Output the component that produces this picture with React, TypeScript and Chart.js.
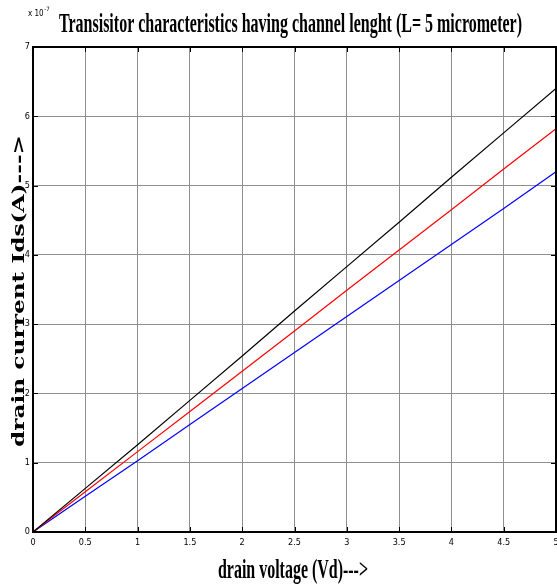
import React, { useEffect, useRef } from "react";
import { Chart, registerables } from "chart.js";

Chart.register(...registerables);

// Drain voltage (V)
const drainVoltage = [0, 0.5, 1, 1.5, 2, 2.5, 3, 3.5, 4, 4.5, 5];
// Drain current Ids in units of 1e-7 A
const idsBlack = [0, 0.63, 1.26, 1.9, 2.54, 3.19, 3.83, 4.47, 5.12, 5.76, 6.4];
const idsRed = [0, 0.58, 1.16, 1.74, 2.32, 2.9, 3.49, 4.07, 4.65, 5.24, 5.82];
const idsBlue = [0, 0.515, 1.03, 1.55, 2.07, 2.59, 3.11, 3.63, 4.15, 4.67, 5.2];

const xTicks = [0, 0.5, 1, 1.5, 2, 2.5, 3, 3.5, 4, 4.5, 5];
const yTicks = [0, 1, 2, 3, 4, 5, 6, 7];

const titleText = "Transisitor characteristics having channel lenght (L= 5 micrometer)";
const xLabel = "drain voltage (Vd)--->";
const yLabel = "drain current Ids(A)--->";
const multiplierBase = "x 10";
const multiplierExp = "-7";

const tickFont = "'Liberation Sans Narrow', 'DejaVu Sans Condensed', 'Liberation Sans', sans-serif";

function drawFitted(
  ctx: CanvasRenderingContext2D,
  text: string,
  font: string,
  cx: number,
  cy: number,
  targetWidth: number,
  rotate: boolean
) {
  ctx.save();
  ctx.font = font;
  ctx.fillStyle = "#000";
  const w = ctx.measureText(text).width;
  ctx.translate(cx, cy);
  if (rotate) ctx.rotate(-Math.PI / 2);
  ctx.scale(targetWidth / w, 1);
  ctx.textAlign = "center";
  ctx.textBaseline = "alphabetic";
  ctx.fillText(text, 0, 0);
  ctx.restore();
}

const decorPlugin = {
  id: "matlabDecor",
  afterDraw(chart: any) {
    const ctx: CanvasRenderingContext2D = chart.ctx;
    const { left, right, top, bottom } = chart.chartArea;
    const xs = chart.scales.x;
    const ys = chart.scales.y;
    ctx.save();
    // inner tick marks
    ctx.strokeStyle = "#000";
    ctx.lineWidth = 1;
    ctx.beginPath();
    xTicks.forEach((v) => {
      const px = Math.round(xs.getPixelForValue(v)) + 0.5;
      ctx.moveTo(px, bottom);
      ctx.lineTo(px, bottom - 5);
      ctx.moveTo(px, top);
      ctx.lineTo(px, top + 5);
    });
    yTicks.forEach((v) => {
      const py = Math.round(ys.getPixelForValue(v)) + 0.5;
      ctx.moveTo(left, py);
      ctx.lineTo(left + 5, py);
      ctx.moveTo(right, py);
      ctx.lineTo(right - 5, py);
    });
    ctx.stroke();
    // box
    ctx.lineWidth = 2;
    ctx.strokeRect(left, top, right - left, bottom - top);
    ctx.restore();

    // titles
    drawFitted(ctx, titleText, "bold 27px 'Liberation Serif', serif", 290.5, 32, 463, false);
    drawFitted(ctx, xLabel, "bold 27px 'Liberation Serif', serif", 293, 578, 150, false);
    drawFitted(ctx, yLabel, "bold 16px 'DejaVu Serif', serif", 24, 291, 312, true);

    // multiplier
    ctx.save();
    ctx.fillStyle = "#000";
    ctx.font = `8px ${tickFont}`;
    ctx.textBaseline = "alphabetic";
    ctx.textAlign = "left";
    ctx.fillText(multiplierBase, 28, 16);
    const bw = ctx.measureText(multiplierBase).width;
    ctx.font = `6px ${tickFont}`;
    ctx.fillText(multiplierExp, 28 + bw + 0.5, 11);
    ctx.restore();
  },
};

export default function App() {
  const canvasRef = useRef<HTMLCanvasElement | null>(null);

  useEffect(() => {
    const canvas = canvasRef.current;
    if (!canvas) return;
    const mk = (label: string, data: number[], color: string) => ({
      label,
      data: drainVoltage.map((x, i) => ({ x, y: data[i] })),
      borderColor: color,
      backgroundColor: color,
      borderWidth: 1.2,
      pointRadius: 0,
      tension: 0,
      fill: false,
    });
    const chart = new Chart(canvas, {
      type: "line",
      data: {
        datasets: [
          mk("black", idsBlack, "#000000"),
          mk("red", idsRed, "#ff0000"),
          mk("blue", idsBlue, "#0000ff"),
        ],
      },
      options: {
        animation: false,
        responsive: false,
        maintainAspectRatio: false,
        layout: { padding: { left: 0, top: 47, right: 1, bottom: 33 } },
        plugins: {
          legend: { display: false },
          title: { display: false },
          tooltip: { enabled: false },
        },
        scales: {
          x: {
            type: "linear",
            min: 0,
            max: 5,
            afterBuildTicks: (scale: any) => {
              scale.ticks = xTicks.map((v) => ({ value: v }));
            },
            afterFit: (scale: any) => {
              scale.height = 20;
              scale.paddingLeft = 0;
              scale.paddingRight = 0;
            },
            ticks: {
              color: "#000",
              font: { family: tickFont, size: 9 },
              padding: 5,
              maxRotation: 0,
              autoSkip: false,
              callback: (v: any) => String(v),
            },
            grid: { color: "#8f8f8f", lineWidth: 1, drawTicks: false },
            border: { display: false },
          },
          y: {
            type: "linear",
            min: 0,
            max: 7,
            afterBuildTicks: (scale: any) => {
              scale.ticks = yTicks.map((v) => ({ value: v }));
            },
            afterFit: (scale: any) => {
              scale.width = 33;
              scale.paddingTop = 0;
              scale.paddingBottom = 0;
            },
            ticks: {
              color: "#000",
              font: { family: tickFont, size: 9 },
              padding: 3,
              autoSkip: false,
              callback: (v: any) => String(v),
            },
            grid: { color: "#8f8f8f", lineWidth: 1, drawTicks: false },
            border: { display: false },
          },
        },
      },
      plugins: [decorPlugin],
    });
    return () => chart.destroy();
  }, []);

  return (
    <div style={{ position: "fixed", left: 0, top: 0, width: 557, height: 585, background: "#fff" }}>
      <canvas ref={canvasRef} width={557} height={585} style={{ display: "block", width: 557, height: 585 }} />
    </div>
  );
}
